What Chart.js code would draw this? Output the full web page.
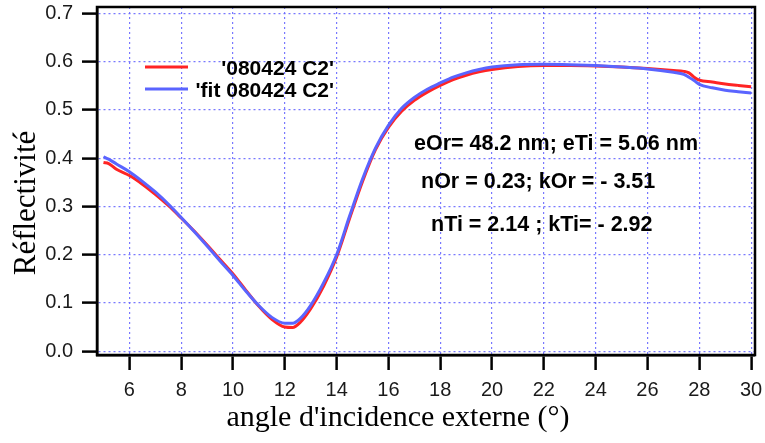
<!DOCTYPE html>
<html>
<head>
<meta charset="utf-8">
<script src="https://cdn.jsdelivr.net/npm/chart.js@4.4.1/dist/chart.umd.min.js"></script>
<style>
  html, body { margin: 0; padding: 0; background: #fff; }
  #wrap { width: 765px; height: 443px; }
</style>
</head>
<body>
<div id="wrap"><canvas id="chart"></canvas></div>
<script>
// angle (deg) and reflectivity
const angles = [5.0, 5.2, 5.5, 6.0, 6.5, 7.0, 7.5, 8.0, 8.5, 9.0, 9.5, 10.0, 10.5, 11.0, 11.5, 12.0, 12.3, 12.6, 13.0, 13.5, 14.0, 14.5, 15.0, 15.5, 16.0, 16.5, 17.0, 17.5, 18.0, 18.5, 19.0, 19.5, 20.0, 21.0, 22.0, 23.0, 24.0, 25.0, 26.0, 27.0, 27.4, 27.6, 27.8, 28.0, 28.5, 29.0, 29.5, 30.0];
const measured = [0.391, 0.389, 0.377, 0.364, 0.346, 0.325, 0.302, 0.276, 0.249, 0.220, 0.190, 0.160, 0.126, 0.093, 0.066, 0.050, 0.049, 0.060, 0.088, 0.135, 0.195, 0.275, 0.352, 0.418, 0.464, 0.497, 0.520, 0.537, 0.551, 0.563, 0.572, 0.579, 0.584, 0.590, 0.592, 0.592, 0.591, 0.589, 0.586, 0.582, 0.580, 0.577, 0.568, 0.562, 0.558, 0.554, 0.551, 0.548];
const fitted = [0.403, 0.398, 0.388, 0.372, 0.352, 0.330, 0.305, 0.277, 0.248, 0.218, 0.187, 0.157, 0.124, 0.094, 0.070, 0.058, 0.058, 0.068, 0.095, 0.142, 0.200, 0.280, 0.357, 0.421, 0.468, 0.503, 0.526, 0.543, 0.556, 0.568, 0.577, 0.584, 0.589, 0.594, 0.595, 0.594, 0.592, 0.589, 0.585, 0.578, 0.574, 0.568, 0.561, 0.553, 0.546, 0.541, 0.538, 0.535];

const xTicks = [6, 8, 10, 12, 14, 16, 18, 20, 22, 24, 26, 28, 30];
const yTicks = [0, 0.1, 0.2, 0.3, 0.4, 0.5, 0.6, 0.7];

const seriesNames = ["'080424 C2'", "'fit 080424 C2'"];
const notes = ['eOr= 48.2 nm; eTi = 5.06 nm', 'nOr = 0.23; kOr = - 3.51', 'nTi = 2.14 ; kTi= - 2.92'];
const xTitle = "angle d'incidence externe (°)";
const yTitle = 'Réflectivité';

const red = '#ff2424';
const blue = '#5a64ff';
const gridColor = 'rgba(105, 105, 255, 0.9)';

function pts(ys) {
  return angles.map((a, i) => ({ x: a, y: ys[i] }));
}

// frame, axis titles, legend and fit parameters
const overlay = {
  id: 'overlay',
  afterDraw(chart) {
    const ctx = chart.ctx;
    const a = chart.chartArea;
    ctx.save();
    ctx.strokeStyle = '#000';
    ctx.lineWidth = 2.5;
    ctx.strokeRect(a.left, a.top, a.right - a.left, a.bottom - a.top);

    ctx.fillStyle = '#000';
    ctx.font = '30px "Liberation Serif", "Times New Roman", serif';
    ctx.textAlign = 'center';
    ctx.textBaseline = 'middle';
    ctx.fillText(xTitle, 398, 418);
    ctx.font = '31px "Liberation Serif", "Times New Roman", serif';
    ctx.translate(27, 203);
    ctx.rotate(-Math.PI / 2);
    ctx.fillText(yTitle, 0, 0);
    ctx.setTransform(1, 0, 0, 1, 0, 0);

    ctx.lineWidth = 3;
    ctx.strokeStyle = red;
    ctx.beginPath(); ctx.moveTo(145, 67); ctx.lineTo(188, 67); ctx.stroke();
    ctx.strokeStyle = blue;
    ctx.beginPath(); ctx.moveTo(145, 89); ctx.lineTo(188, 89); ctx.stroke();

    ctx.font = 'bold 21px "Liberation Sans", Arial, sans-serif';
    ctx.textBaseline = 'alphabetic';
    ctx.textAlign = 'right';
    ctx.fillText(seriesNames[0], 334, 75);
    ctx.fillText(seriesNames[1], 334, 97);

    ctx.font = 'bold 21.5px "Liberation Sans", Arial, sans-serif';
    ctx.textAlign = 'left';
    ctx.fillText(notes[0], 414, 150);
    ctx.fillText(notes[1], 421, 188);
    ctx.fillText(notes[2], 431, 231);
    ctx.restore();
  }
};

new Chart('chart', {
  type: 'line',
  data: {
    datasets: [
      {
        label: seriesNames[0],
        data: pts(measured),
        borderColor: red,
        borderWidth: 3,
        pointRadius: 0,
        cubicInterpolationMode: 'monotone',
        order: 1
      },
      {
        label: seriesNames[1],
        data: pts(fitted),
        borderColor: blue,
        borderWidth: 3,
        pointRadius: 0,
        cubicInterpolationMode: 'monotone',
        order: 0
      }
    ]
  },
  options: {
    responsive: true,
    maintainAspectRatio: false,
    animation: false,
    layout: { padding: { top: 7, right: 10, left: 0, bottom: 0 } },
    plugins: {
      legend: { display: false },
      tooltip: { enabled: false }
    },
    scales: {
      x: {
        type: 'linear',
        min: 4.75,
        max: 30.15,
        afterBuildTicks: s => { s.ticks = xTicks.map(v => ({ value: v })); },
        afterFit: s => { s.height = 88; s.paddingLeft = 0; s.paddingRight = 0; },
        border: { color: '#000', width: 2.5, dash: [2, 3] },
        grid: {
          color: gridColor,
          lineWidth: 1.2,
          tickColor: '#000',
          tickWidth: 2.5,
          tickLength: 15
        },
        ticks: {
          padding: 8,
          color: '#1a1a1a',
          maxRotation: 0,
          font: { family: '"Liberation Sans", Arial, sans-serif', size: 20 }
        }
      },
      y: {
        min: -0.008,
        max: 0.7135,
        afterBuildTicks: s => { s.ticks = yTicks.map(v => ({ value: v })); },
        afterFit: s => { s.width = 97; s.paddingTop = 0; s.paddingBottom = 0; },
        border: { color: '#000', width: 2.5, dash: [2, 3] },
        grid: {
          color: gridColor,
          lineWidth: 1.2,
          tickColor: '#000',
          tickWidth: 2.5,
          tickLength: 15
        },
        ticks: {
          padding: 9,
          color: '#1a1a1a',
          font: { family: '"Liberation Sans", Arial, sans-serif', size: 20 },
          callback: v => v.toFixed(1)
        }
      }
    }
  },
  plugins: [overlay]
});
</script>
</body>
</html>
